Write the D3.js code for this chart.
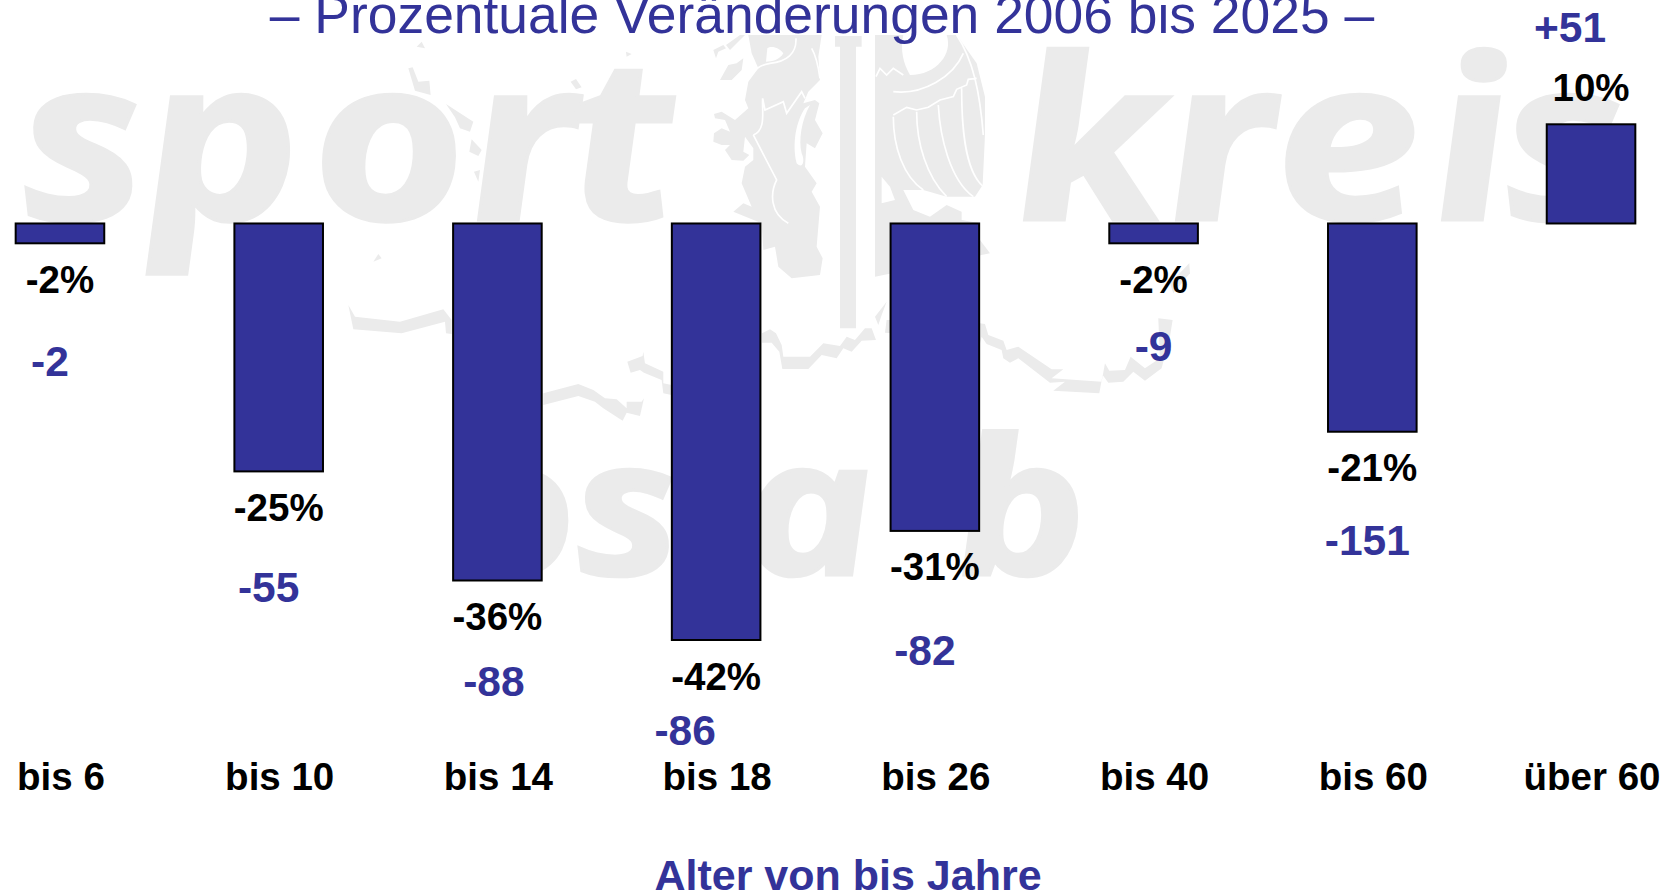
<!DOCTYPE html>
<html lang="de">

<head>
    <meta charset="UTF-8">
    <title>Prozentuale Veränderungen 2006 bis 2025</title>
    <script src="https://d3js.org/d3.v7.min.js"></script>
    <style>
        html, body { margin: 0; padding: 0; background: #fff; overflow: hidden; }
        svg { display: block; font-family: "Liberation Sans", Arial, sans-serif; }
    </style>
</head>

<body>
    <div id="chart"></div>
    <script>
        // values
        const categories = ["bis 6", "bis 10", "bis 14", "bis 18", "bis 26", "bis 40", "bis 60", "über 60"];
        const percentChange = [-2, -25, -36, -42, -31, -2, -21, 10];
        const absoluteChange = [-2, -55, -88, -86, -82, -9, -151, 51];

        const titleText = "– Prozentuale Veränderungen 2006 bis 2025 –";
        const axisTitle = "Alter von bis Jahre";

        // the blue numbers sit by hand in the original, offset from the bar end
        const countDx = [-10, -10, -3.5, -31, -10, 0, -5, -21];
        const countDy = [133, 131, 116, 105, 134, 118, 123, -82];

        const width = 1675, height = 893;
        const blue = "#333399", wm = "#ebebeb";

        const svg = d3.select("#chart").append("svg")
            .attr("width", width)
            .attr("height", height);

        // watermark ------------------------------------------------------
        const mark = svg.append("g").attr("class", "watermark");

        // Open Sans italic is too narrow and leans too far, so widen it and skew it back
        const wmStretch = 1.18;
        function wmWord(txt, xs, y, size) {
            mark.append("text")
                .attr("transform", "translate(0," + y + ") skewX(6.5) scale(" + wmStretch + ",1)")
                .attr("x", xs.map(v => v / wmStretch).join(" "))
                .attr("y", 0)
                .attr("font-family", "'Open Sans', sans-serif")
                .attr("font-weight", 700)
                .attr("font-style", "italic")
                .attr("font-size", size)
                .attr("fill", wm)
                .attr("stroke", wm)
                .attr("stroke-width", 3)
                .text(txt);
        }
        wmWord("sport", [27, 150, 318, 474, 574], 220, 226);
        wmWord("kreis", [1020, 1172, 1281, 1438, 1510], 220, 226);
        wmWord("osab", [452, 580, 748, 960], 575, 190);

        // lion, sword and eagle, traced at 3x from x=690 y=20
        const crest = mark.append("g").attr("transform", "translate(690,20) scale(0.3333)");
        ["M175 45L395 45L385 110L390 180L355 215L340 250L375 240L388 250L375 300L398 340L375 385L350 370L345 440L380 490L365 515L390 560L380 680L398 715L390 765L305 775L265 740L255 680L220 690L215 610L130 575L160 550L185 560L155 490L165 440L190 420L190 385L165 350L160 395L178 405L160 422L125 420L105 390L120 375L95 375L70 365L72 340L95 325L120 335L105 300L75 295L72 282L95 275L135 300L175 265L165 240L175 185L205 145L185 100Z",
            "M70 90L100 75L108 85L85 95L78 115Z",
            "M108 75L150 45L165 45L120 90Z",
            "M90 180L115 135L140 130L160 115L155 150L125 180Z"
        ].forEach(d => crest.append("path").attr("fill", wm).attr("d", d));
        crest.append("path").attr("fill", "#fff").attr("d",
            "M345 265C320 300 305 370 320 430C340 450 345 420 335 400C325 360 335 300 360 255ZM232 85C245 75 270 85 280 100C270 120 245 125 228 125Z");
        crest.append("path").attr("fill", "none").attr("stroke", "#fff").attr("stroke-width", 5).attr("d",
            "M190 345C230 330 215 270 218 235L225 270L280 245L290 280L335 215L345 235M190 345L260 480C240 520 240 580 295 610M318 55C320 100 290 125 240 130C215 135 200 145 195 152M365 85C380 110 385 140 390 175");
        crest.append("path").attr("fill", wm).attr("d",
            "M450 80H498V925H450ZM435 48H515V80H435Z");
        crest.append("path").attr("fill", wm).attr("d",
            "M555 45L800 45L860 130L885 230L885 345L878 495L855 530L770 530L700 510L640 510L670 570L720 590L770 555L815 575L815 600L870 610L870 660L900 700L555 770Z");
        crest.append("path").attr("fill", "#fff").attr("d",
            "M640 45L770 45C790 100 740 165 660 165C640 130 630 90 640 45ZM575 470L600 500L615 540L575 550Z");
        crest.append("path").attr("fill", "none").attr("stroke", "#fff").attr("stroke-width", 5).attr("d",
            "M610 290C610 380 640 470 700 510M680 275C680 370 710 470 770 530M745 255C750 350 780 480 850 530M815 205C815 300 820 450 880 500M610 285L650 262L680 270L715 262L750 240L790 230L800 208L830 195L835 178L860 175M610 215C700 225 790 170 820 100M558 170L570 145L590 165L610 145L640 165M800 45C850 120 870 220 880 345");

        // map border pieces, traced at 3x from x=340 y=30
        const mapLeft = mark.append("g").attr("transform", "translate(340,30) scale(0.3333)");
        ["M230 50L245 35L255 55Z",
            "M205 115L218 112L235 155L268 152L272 195L225 182Z",
            "M318 222L400 275L390 305L360 295L345 262Z",
            "M395 328L425 360L415 378L388 365Z",
            "M402 425L420 420L415 455Z",
            "M692 155L708 147L725 172L708 178Z",
            "M858 65L875 72L860 80Z",
            "M100 695L115 672L125 685Z",
            "M25 825L45 860L180 875L310 838L335 870L335 912L318 910L315 875L185 910L40 898Z",
            "M610 1090L715 1062L760 1080L795 1105L830 1108L860 1135L860 1115L905 1115L912 1105L900 1158L860 1148L848 1172L790 1135L765 1115L715 1098L610 1125Z",
            "M862 995L908 978L910 965L915 1000L970 1025L970 1060L995 1065L995 1095L970 1090L965 1050L912 1028L900 1020L872 1028Z"
        ].forEach(d => mapLeft.append("path").attr("fill", wm).attr("d", d));

        // same, from x=740 y=300
        const mapRight = mark.append("g").attr("transform", "translate(740,300) scale(0.3333)");
        ["M66 100L90 88L108 100L125 135L130 170L210 170L250 130L300 138L320 110L345 120L375 85L395 85L408 120L365 122L335 155L310 145L290 175L245 165L205 207L127 207L118 155L95 128L66 128Z",
            "M405 50L440 5L425 45L415 75Z",
            "M440 60L455 60L455 100L435 98Z",
            "M720 70L735 72L745 105L790 122L800 150L835 140L935 208L970 208L935 235L1085 245L1095 190L1108 212L1155 210L1172 170L1215 205L1260 175L1255 55L1298 60L1290 110L1265 205L1215 242L1180 215L1150 245L1105 248L1088 225L1078 280L940 272L975 245L930 248L835 175L810 188L790 175L785 150L740 132L725 110L720 130Z",
            "M1290 -50L1348 -110L1350 -80L1300 -20Z"
        ].forEach(d => mapRight.append("path").attr("fill", wm).attr("d", d));

        // scales ---------------------------------------------------------
        const x = d3.scaleBand()
            .domain(categories)
            .range([-49.4, 1700.4])
            .paddingInner(0.595)
            .paddingOuter(0.2975);

        const y = d3.scaleLinear()
            .domain([-42, 10])
            .range([640, 124.3]);

        const rows = categories.map((c, i) => ({
            cat: c,
            pct: percentChange[i],
            abs: absoluteChange[i],
            dx: countDx[i],
            dy: countDy[i]
        }));

        // bars
        svg.append("g")
            .selectAll("rect")
            .data(rows)
            .enter()
            .append("rect")
            .attr("x", d => x(d.cat))
            .attr("width", x.bandwidth())
            .attr("y", d => Math.min(y(d.pct), y(0)))
            .attr("height", d => Math.abs(y(d.pct) - y(0)))
            .attr("fill", blue)
            .attr("stroke", "#000")
            .attr("stroke-width", 2);

        // percent labels
        svg.append("g")
            .selectAll("text")
            .data(rows)
            .enter()
            .append("text")
            .attr("x", d => x(d.cat) + x.bandwidth() / 2)
            .attr("y", d => d.pct < 0 ? y(d.pct) + 49.5 : y(d.pct) - 23)
            .attr("text-anchor", "middle")
            .attr("font-size", 38.5)
            .attr("font-weight", 700)
            .attr("fill", "#000")
            .text(d => d.pct + "%");

        // member counts
        svg.append("g")
            .selectAll("text")
            .data(rows)
            .enter()
            .append("text")
            .attr("x", d => x(d.cat) + x.bandwidth() / 2 + d.dx)
            .attr("y", d => y(d.pct) + d.dy)
            .attr("text-anchor", "middle")
            .attr("font-size", 42.5)
            .attr("font-weight", 700)
            .attr("fill", blue)
            .text(d => (d.abs > 0 ? "+" : "") + d.abs);

        // category axis, no line and no ticks
        const axis = svg.append("g")
            .attr("transform", "translate(0,790)")
            .call(d3.axisBottom(x).tickSize(0).tickPadding(0));
        axis.select(".domain").remove();
        axis.selectAll("text")
            .attr("y", 0)
            .attr("dy", 0)
            .attr("dx", 1)
            .attr("fill", "#000")
            .attr("font-family", "'Liberation Sans', Arial, sans-serif")
            .attr("font-size", 38.5)
            .attr("font-weight", 700);

        // titles
        svg.append("text")
            .attr("x", 822)
            .attr("y", 33)
            .attr("text-anchor", "middle")
            .attr("font-size", 53.4)
            .attr("fill", blue)
            .text(titleText);

        svg.append("text")
            .attr("x", 848)
            .attr("y", 890)
            .attr("text-anchor", "middle")
            .attr("font-size", 43)
            .attr("font-weight", 700)
            .attr("fill", blue)
            .text(axisTitle);
    </script>
</body>

</html>
